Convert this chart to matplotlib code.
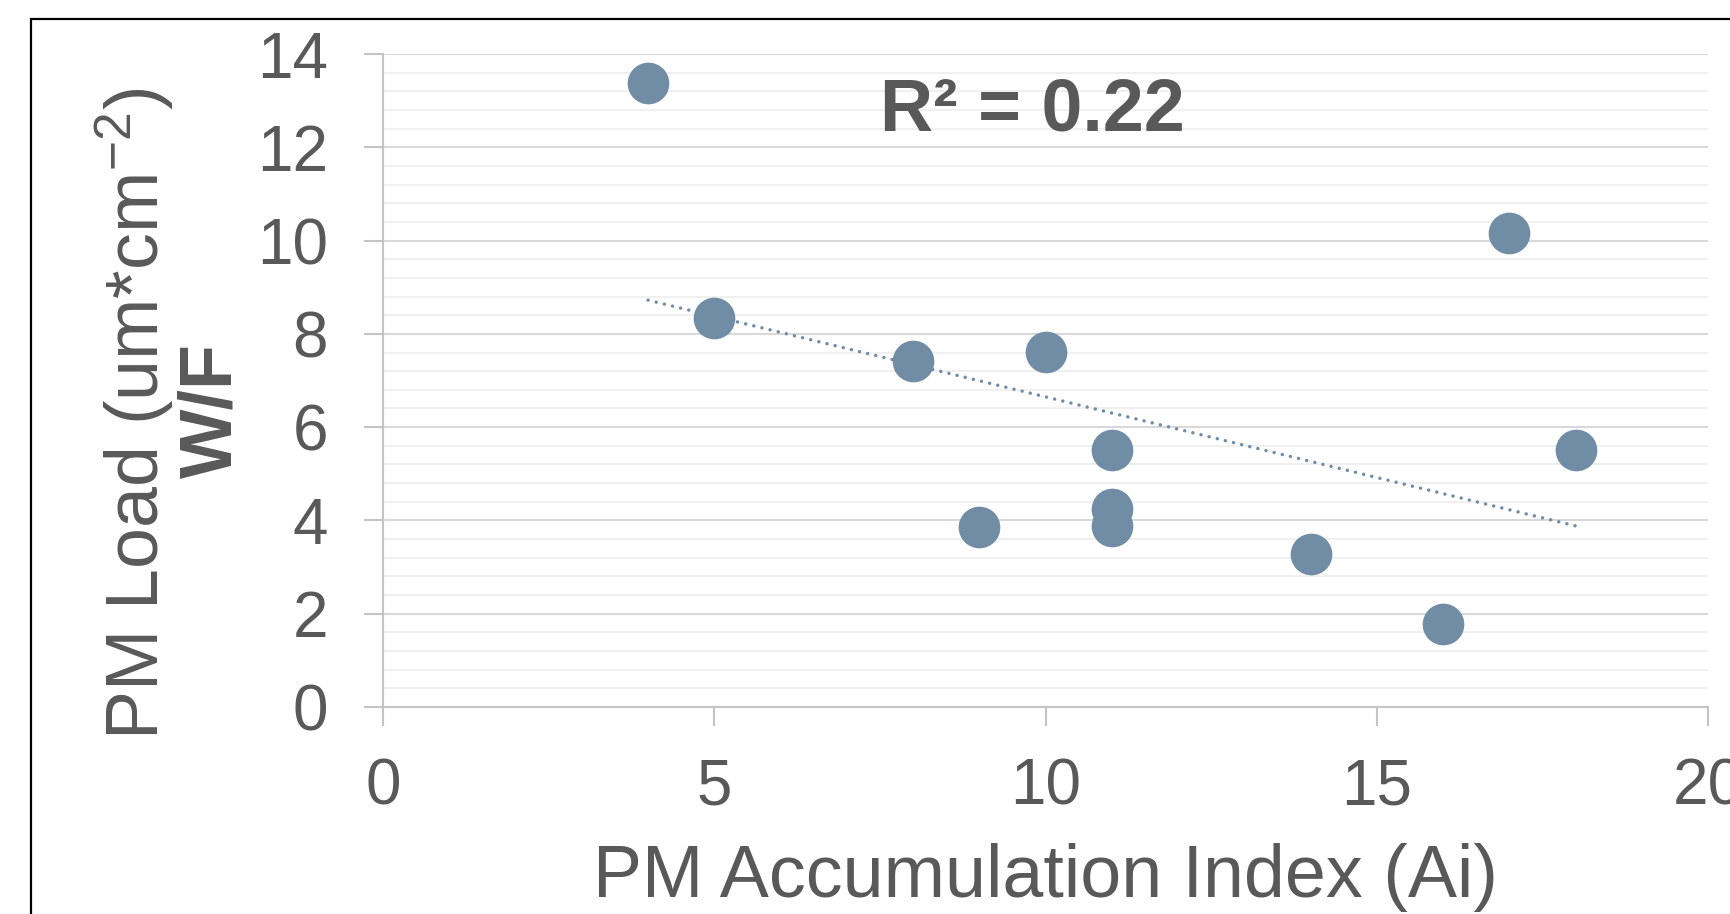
import numpy as np
import matplotlib
matplotlib.use('Agg')
import matplotlib.pyplot as plt
from matplotlib.ticker import MultipleLocator
from matplotlib.patches import Rectangle

plt.rcParams['font.family'] = ['Liberation Sans', 'DejaVu Sans']
plt.rcParams['mathtext.fontset'] = 'custom'
plt.rcParams['mathtext.rm'] = 'Liberation Sans'
plt.rcParams['mathtext.it'] = 'Liberation Sans'

# PM accumulation index vs PM load, W/F
ai = [4, 5, 8, 9, 10, 11, 11, 11, 14, 16, 17, 18]
load = [13.37, 8.33, 7.41, 3.85, 7.61, 5.50, 4.25, 3.88, 3.28, 1.78, 10.16, 5.52]

x = np.array(ai, dtype=float)
y = np.array(load)

# linear trendline + R^2
k, b = np.polyfit(x, y, 1)
yfit = k*x + b
r2 = 1 - np.sum((y - yfit)**2)/np.sum((y - y.mean())**2)

grey = '#595959'
axc = '#c4c4c4'
dotc = '#718ca5'

fig = plt.figure(figsize=(17.31, 9.14), dpi=100)
ax = fig.add_axes([0.2213, 0.2265, 0.7655, 0.7144])

xl = np.array([x.min(), x.max()])
ax.plot(xl, k*xl + b, color=dotc, lw=2.5, linestyle=(0, (0.01, 2.4)),
        dash_capstyle='round', zorder=2)
ax.plot(x, y, 'o', color=dotc, markersize=30, markeredgewidth=0, zorder=3)

ax.set_xlim(0, 20)
ax.set_ylim(0, 14)
ax.xaxis.set_major_locator(MultipleLocator(5))
ax.yaxis.set_major_locator(MultipleLocator(2))
ax.yaxis.set_minor_locator(MultipleLocator(0.4))

ax.grid(axis='y', which='major', color='#d9d9d9', lw=1.5, zorder=0)
ax.grid(axis='y', which='minor', color='#f0f0f0', lw=1.5, zorder=0)
ax.set_axisbelow(True)

for s in ['top', 'right']:
    ax.spines[s].set_visible(False)
for s in ['left', 'bottom']:
    ax.spines[s].set_color(axc)
    ax.spines[s].set_linewidth(1.5)

ax.tick_params(axis='both', which='major', direction='out', length=13.7,
               width=1.5, color=axc, labelcolor=grey, labelsize=46)
ax.tick_params(axis='y', which='minor', length=0)
ax.tick_params(axis='y', which='major', pad=26)
ax.tick_params(axis='x', which='major', pad=23)

ax.set_xlabel('PM Accumulation Index (Ai)', fontsize=53, color=grey, labelpad=18)

fig.text(135/1731, 1 - 414/914, r'PM Load (um*cm$^{\mathrm{-2}}$)', rotation=90,
         ha='center', va='center', fontsize=53, color=grey)
fig.text(212/1731, 1 - 411/914, 'W/F', rotation=90, ha='center', va='center',
         fontsize=53, fontweight='bold', color=grey)

ax.text(9.8, 12.37, 'R\u00b2 = {:.2f}'.format(r2), ha='center', va='baseline',
        fontsize=53, fontweight='bold', color=grey)

# outer frame
fig.add_artist(Rectangle((31/1731, -0.1), 1.2, 1.1 - 19/914, transform=fig.transFigure,
                         fill=False, edgecolor='black', lw=1.6))

fig.savefig('out.png', dpi=100)
